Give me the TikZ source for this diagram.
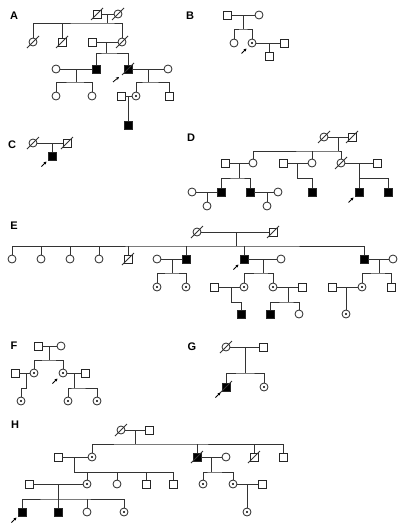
\documentclass[tikz,border=0pt]{standalone}
\usepackage{fontspec}
\setmainfont{Liberation Sans}
\usetikzlibrary{arrows.meta}
\tikzset{
  sq/.style={rectangle, draw=black!85, line width=0.8pt, minimum size=8pt, inner sep=0pt, fill=white},
  ci/.style={circle, draw=black!85, line width=0.8pt, minimum size=8pt, inner sep=0pt, fill=white},
  af/.style={fill=black},
  cr/.style={path picture={\fill[black] (path picture bounding box.center) circle (1.2pt);}},
  ln/.style={line width=0.8pt, draw=black!80},
  lab/.style={font=\bfseries\fontsize{11}{13}\selectfont, inner sep=0pt},
  prarrow/.style={-{Stealth[length=3pt,width=3pt]}, line width=0.8pt, draw=black}
}
\newcommand\dcs[1]{\draw[ln] ([shift={(-6pt,-6pt)}]#1.center) -- ([shift={(6pt,6pt)}]#1.center);}
\newcommand\prb[1]{\draw[prarrow] ([shift={(-10.5pt,-10.5pt)}]#1.center) -- ([shift={(-5.5pt,-5.5pt)}]#1.center);}
\begin{document}
\begin{tikzpicture}[x=1pt,y=-1pt]
\useasboundingbox (0,0) rectangle (404,530);
% labels
\node[lab] (LA) at (14,15.5) {A};
\node[lab] (LB) at (190,15.5) {B};
\node[lab] (LC) at (12,145) {C};
\node[lab] (LD) at (191,138) {D};
\node[lab] (LE) at (14,226) {E};
\node[lab] (LF) at (14,346) {F};
\node[lab] (LG) at (192,347) {G};
\node[lab] (LH) at (15,425) {H};

% ---------------- A ----------------
\node[sq] (A1) at (97,14) {};
\node[ci] (A2) at (118,14) {};
\node[ci] (A3) at (33,42) {};
\node[sq] (A4) at (62,42) {};
\node[sq] (A5) at (92,42) {};
\node[ci] (A6) at (122,42) {};
\node[ci] (A7) at (56,69) {};
\node[sq,af] (A8) at (96,69) {};
\node[sq,af] (A9) at (128,69) {};
\node[ci] (A10) at (168,69) {};
\node[ci] (A11) at (56,96) {};
\node[ci] (A12) at (92,96) {};
\node[sq] (A13) at (121,96) {};
\node[ci,cr] (A14) at (136,96) {};
\node[sq] (A15) at (169,96) {};
\node[sq,af] (A16) at (128,125) {};
\coordinate (Ad1) at (107,23);
\coordinate (Ad2) at (106,53);
\coordinate (Ad3) at (76,82);
\coordinate (Ad4) at (148,82);
\draw[ln] (A1) -- (A2);
\draw[ln] (Ad1 |- A1) -- (Ad1);
\draw[ln] (A3) |- (Ad1) -| (A6);
\draw[ln] (A4) -- (A4 |- Ad1);
\draw[ln] (A5) -- (A6);
\draw[ln] (Ad2 |- A5) -- (Ad2);
\draw[ln] (A8) |- (Ad2) -| (A9);
\draw[ln] (A7) -- (A8);
\draw[ln] (Ad3 |- A7) -- (Ad3);
\draw[ln] (A11) |- (Ad3) -| (A12);
\draw[ln] (A9) -- (A10);
\draw[ln] (Ad4 |- A9) -- (Ad4);
\draw[ln] (A14) |- (Ad4) -| (A15);
\draw[ln] (A13) -- (A14);
\draw[ln] (A16) -- (A16 |- A13);
\dcs{A1}\dcs{A2}\dcs{A3}\dcs{A4}\dcs{A6}\dcs{A9}
\draw[prarrow] ([shift={(-15pt,-13pt)}]A9.center) -- ([shift={(-9pt,-8pt)}]A9.center);

% ---------------- B ----------------
\node[sq] (B1) at (227,15) {};
\node[ci] (B2) at (259,15) {};
\node[ci] (B3) at (234,43) {};
\node[ci,cr] (B4) at (252,43) {};
\node[sq] (B5) at (284,43) {};
\node[sq] (B6) at (269,56) {};
\coordinate (Bd1) at (243,29);
\draw[ln] (B1) -- (B2);
\draw[ln] (Bd1 |- B1) -- (Bd1);
\draw[ln] (B3) |- (Bd1) -| (B4);
\draw[ln] (B4) -- (B5);
\draw[ln] (B6) -- (B6 |- B5);
\prb{B4}

% ---------------- C ----------------
\node[ci] (C1) at (33,143) {};
\node[sq] (C2) at (67,143) {};
\node[sq,af] (C3) at (52,156) {};
\draw[ln] (C1) -- (C2);
\draw[ln] (C3) -- (C3 |- C1);
\dcs{C1}\dcs{C2}
\prb{C3}

% ---------------- D ----------------
\node[ci] (D1) at (324,137) {};
\node[sq] (D2) at (352,137) {};
\node[sq] (D3) at (225,163) {};
\node[ci] (D4) at (253,163) {};
\node[sq] (D5) at (283,163) {};
\node[ci] (D6) at (312,163) {};
\node[ci] (D7) at (341,163) {};
\node[sq] (D8) at (377,163) {};
\node[sq,af] (D9) at (221,192) {};
\node[sq,af] (D10) at (250,192) {};
\node[sq,af] (D11) at (312,192) {};
\node[sq,af] (D12) at (359,192) {};
\node[sq,af] (D13) at (388,192) {};
\node[ci] (D14) at (192,192) {};
\node[ci] (D15) at (207,206) {};
\node[ci] (D16) at (278,192) {};
\node[ci] (D17) at (267,206) {};
\coordinate (Dd1) at (338,151);
\coordinate (Dd2) at (239,178);
\coordinate (Dd3) at (297,178);
\coordinate (Dd4) at (359,178);
\draw[ln] (D1) -- (D2);
\draw[ln] (Dd1 |- D1) -- (Dd1);
\draw[ln] (D4) |- (Dd1) -| (D7);
\draw[ln] (D6) -- (D6 |- Dd1);
\draw[ln] (D3) -- (D4);
\draw[ln] (Dd2 |- D3) -- (Dd2);
\draw[ln] (D9) |- (Dd2) -| (D10);
\draw[ln] (D5) -- (D6);
\draw[ln] (Dd3 |- D5) -- (Dd3) -| (D11);
\draw[ln] (D7) -- (D8);
\draw[ln] (Dd4 |- D7) -- (Dd4);
\draw[ln] (D12) |- (Dd4) -| (D13);
\draw[ln] (D14) -- (D9);
\draw[ln] (D15) -- (D15 |- D14);
\draw[ln] (D10) -- (D16);
\draw[ln] (D17) -- (D17 |- D16);
\dcs{D1}\dcs{D2}\dcs{D7}
\prb{D12}

% ---------------- E ----------------
\node[ci] (E1) at (197,232) {};
\node[sq] (E2) at (273,232) {};
\node[ci] (E3) at (12,259) {};
\node[ci] (E4) at (41,259) {};
\node[ci] (E5) at (70,259) {};
\node[ci] (E6) at (99,259) {};
\node[sq] (E7) at (128,259) {};
\node[ci] (E8) at (157,259) {};
\node[sq,af] (E9) at (186,259) {};
\node[sq,af] (E10) at (244,259) {};
\node[ci] (E11) at (281,259) {};
\node[sq,af] (E12) at (364,259) {};
\node[ci] (E13) at (393,259) {};
\node[ci,cr] (E14) at (157,287) {};
\node[ci,cr] (E15) at (186,287) {};
\node[ci,cr] (E16) at (244,287) {};
\node[ci,cr] (E17) at (273,287) {};
\node[sq] (E18) at (214,287) {};
\node[sq,af] (E19) at (241,314) {};
\node[sq] (E20) at (302,287) {};
\node[sq,af] (E21) at (270,314) {};
\node[ci] (E22) at (299,314) {};
\node[ci,cr] (E23) at (362,287) {};
\node[sq] (E24) at (391,287) {};
\node[sq] (E25) at (332,287) {};
\node[ci,cr] (E26) at (346,314) {};
\coordinate (Ed1) at (236,246);
\coordinate (Ed2) at (172,273);
\coordinate (Ed3) at (263,273);
\coordinate (Ed4) at (231,302);
\coordinate (Ed5) at (288,302);
\coordinate (Ed6) at (379,273);
\draw[ln] (E1) -- (E2);
\draw[ln] (Ed1 |- E1) -- (Ed1);
\draw[ln] (E3) |- (Ed1) -| (E12);
\draw[ln] (E4) -- (E4 |- Ed1);
\draw[ln] (E5) -- (E5 |- Ed1);
\draw[ln] (E6) -- (E6 |- Ed1);
\draw[ln] (E7) -- (E7 |- Ed1);
\draw[ln] (E9) -- (E9 |- Ed1);
\draw[ln] (E10) -- (E10 |- Ed1);
\draw[ln] (E8) -- (E9);
\draw[ln] (Ed2 |- E8) -- (Ed2);
\draw[ln] (E14) |- (Ed2) -| (E15);
\draw[ln] (E10) -- (E11);
\draw[ln] (Ed3 |- E10) -- (Ed3);
\draw[ln] (E16) |- (Ed3) -| (E17);
\draw[ln] (E18) -- (E16);
\draw[ln] (Ed4 |- E18) -- (Ed4) -| (E19);
\draw[ln] (E17) -- (E20);
\draw[ln] (Ed5 |- E17) -- (Ed5);
\draw[ln] (E21) |- (Ed5) -| (E22);
\draw[ln] (E12) -- (E13);
\draw[ln] (Ed6 |- E12) -- (Ed6);
\draw[ln] (E23) |- (Ed6) -| (E24);
\draw[ln] (E25) -- (E23);
\draw[ln] (E26) -- (E26 |- E25);
\dcs{E1}\dcs{E2}\dcs{E7}
\prb{E10}

% ---------------- F ----------------
\node[sq] (F1) at (38,346) {};
\node[ci] (F2) at (61,346) {};
\node[ci,cr] (F3) at (34,373) {};
\node[ci,cr] (F4) at (63,373) {};
\node[sq] (F5) at (15,373) {};
\node[ci,cr] (F6) at (21,401) {};
\node[sq] (F7) at (85,373) {};
\node[ci,cr] (F8) at (68,401) {};
\node[ci,cr] (F9) at (97,401) {};
\coordinate (Fd1) at (49,360);
\coordinate (Fd2) at (26,388);
\coordinate (Fd3) at (74,388);
\draw[ln] (F1) -- (F2);
\draw[ln] (Fd1 |- F1) -- (Fd1);
\draw[ln] (F3) |- (Fd1) -| (F4);
\draw[ln] (F5) -- (F3);
\draw[ln] (Fd2 |- F5) -- (Fd2) -| (F6);
\draw[ln] (F4) -- (F7);
\draw[ln] (Fd3 |- F4) -- (Fd3);
\draw[ln] (F8) |- (Fd3) -| (F9);
\prb{F4}

% ---------------- G ----------------
\node[ci] (G1) at (226,347) {};
\node[sq] (G2) at (263,347) {};
\node[sq,af] (G3) at (226,387) {};
\node[ci,cr] (G4) at (264,387) {};
\coordinate (Gd1) at (245,373);
\draw[ln] (G1) -- (G2);
\draw[ln] (Gd1 |- G1) -- (Gd1);
\draw[ln] (G3) |- (Gd1) -| (G4);
\dcs{G1}\dcs{G3}
\prb{G3}

% ---------------- H ----------------
\node[ci] (H1) at (121,430) {};
\node[sq] (H2) at (149,430) {};
\node[sq] (H3) at (58,457) {};
\node[ci,cr] (H4) at (92,457) {};
\node[sq,af] (H5) at (197,457) {};
\node[ci] (H6) at (226,457) {};
\node[sq] (H7) at (254,457) {};
\node[sq] (H8) at (283,457) {};
\node[ci,cr] (H9) at (87,484) {};
\node[ci] (H10) at (117,484) {};
\node[sq] (H11) at (146,484) {};
\node[sq] (H12) at (173,484) {};
\node[sq] (H13) at (29,484) {};
\node[sq,af] (H14) at (22,512) {};
\node[sq,af] (H15) at (58,512) {};
\node[ci] (H16) at (87,512) {};
\node[ci,cr] (H17) at (124,512) {};
\node[ci,cr] (H18) at (203,484) {};
\node[ci,cr] (H19) at (233,484) {};
\node[sq] (H20) at (262,484) {};
\node[ci,cr] (H21) at (247,512) {};
\coordinate (Hd1) at (135,444);
\coordinate (Hd2) at (74,472);
\coordinate (Hd3) at (58,499);
\coordinate (Hd4) at (211,472);
\draw[ln] (H1) -- (H2);
\draw[ln] (Hd1 |- H1) -- (Hd1);
\draw[ln] (H4) |- (Hd1) -| (H8);
\draw[ln] (H5) -- (H5 |- Hd1);
\draw[ln] (H7) -- (H7 |- Hd1);
\draw[ln] (H3) -- (H4);
\draw[ln] (Hd2 |- H3) -- (Hd2) -| (H12);
\draw[ln] (H9) -- (H9 |- Hd2);
\draw[ln] (H10) -- (H10 |- Hd2);
\draw[ln] (H11) -- (H11 |- Hd2);
\draw[ln] (H13) -- (H9);
\draw[ln] (Hd3 |- H13) -- (Hd3);
\draw[ln] (H14) |- (Hd3) -| (H17);
\draw[ln] (H15) -- (H15 |- Hd3);
\draw[ln] (H16) -- (H16 |- Hd3);
\draw[ln] (H5) -- (H6);
\draw[ln] (Hd4 |- H5) -- (Hd4);
\draw[ln] (H18) |- (Hd4) -| (H19);
\draw[ln] (H19) -- (H20);
\draw[ln] (H21) -- (H21 |- H20);
\dcs{H1}\dcs{H5}\dcs{H7}
\prb{H14}
\end{tikzpicture}
\end{document}
